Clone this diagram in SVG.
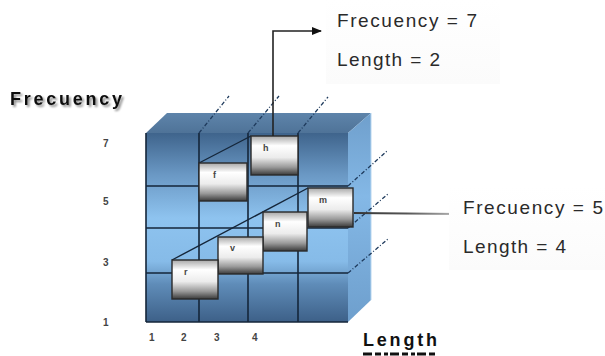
<svg xmlns="http://www.w3.org/2000/svg" width="605" height="356" viewBox="0 0 605 356">
<defs>
<linearGradient id="front" x1="0" y1="0" x2="0" y2="1">
<stop offset="0" stop-color="#3f648c"/>
<stop offset="0.22" stop-color="#6a98c4"/>
<stop offset="0.45" stop-color="#8ec3ef"/>
<stop offset="0.68" stop-color="#86bbe8"/>
<stop offset="0.8" stop-color="#5f8cb8"/>
<stop offset="1" stop-color="#3d6088"/>
</linearGradient>
<linearGradient id="side" x1="0" y1="0" x2="0" y2="1">
<stop offset="0" stop-color="#6f9fcc"/>
<stop offset="0.4" stop-color="#84b8e6"/>
<stop offset="1" stop-color="#6e9fcd"/>
</linearGradient>
<linearGradient id="top" x1="0" y1="0" x2="0" y2="1">
<stop offset="0" stop-color="#5e84aa"/>
<stop offset="1" stop-color="#4f7398"/>
</linearGradient>
<linearGradient id="box" x1="0" y1="0" x2="0" y2="1">
<stop offset="0" stop-color="#a8a8a8"/>
<stop offset="0.25" stop-color="#ffffff"/>
<stop offset="0.55" stop-color="#ececec"/>
<stop offset="0.8" stop-color="#9a9a9a"/>
<stop offset="1" stop-color="#3a3a3a"/>
</linearGradient>
<linearGradient id="arr" x1="0" y1="0" x2="1" y2="0">
<stop offset="0" stop-color="#333"/>
<stop offset="0.5" stop-color="#555"/>
<stop offset="1" stop-color="#bbb"/>
</linearGradient>
<linearGradient id="card" x1="0" y1="0" x2="0" y2="1">
<stop offset="0" stop-color="#ffffff"/>
<stop offset="1" stop-color="#fbfbfb"/>
</linearGradient>
<marker id="ah" markerWidth="10" markerHeight="8" refX="9" refY="4" orient="auto" markerUnits="userSpaceOnUse">
<path d="M0,0 L10,4 L0,8 Z" fill="#111"/>
</marker>
<filter id="sh" x="-10%" y="-20%" width="130%" height="160%">
<feGaussianBlur in="SourceAlpha" stdDeviation="1"/>
<feOffset dx="1.5" dy="1.5" result="b"/>
<feComponentTransfer><feFuncA type="linear" slope="0.45"/></feComponentTransfer>
<feMerge><feMergeNode/><feMergeNode in="SourceGraphic"/></feMerge>
</filter>
</defs>
<style>
.grid{stroke:#15263a;stroke-width:1.6;fill:none}
.dd{stroke:#1e3a5c;stroke-width:1.3;stroke-dasharray:4 2 1 2;fill:none}
.bx{fill:url(#box);stroke:#2a2a2a;stroke-width:1.4}
.bl{font-family:"Liberation Sans",Arial,sans-serif;font-size:9px;font-weight:bold;fill:#444}
.ax{font-family:"Liberation Sans",Arial,sans-serif;font-size:10px;font-weight:bold;fill:#444}
.cd{font-family:"Liberation Sans",Arial,sans-serif;font-size:19px;fill:#2a2a2a}
.tt{font-family:"Liberation Sans",Arial,sans-serif;font-size:18px;font-weight:bold;fill:#111}
.dg{stroke:#15263a;stroke-width:1.4;fill:none}
</style>

<g id="cube">
<polygon points="146,133 167,113 371,113 348,133" fill="url(#top)"/>
<polygon points="348,133 371,113 371,300 348,322" fill="url(#side)"/>
<line x1="371" y1="113" x2="371" y2="300" stroke="#b7d6f0" stroke-width="1"/>
<rect x="146" y="133" width="202" height="189" fill="url(#front)"/>
<path class="grid" d="M199,133V322M248,133V322M298,133V322M146,186H348M146,228H348M146,273H348M146,133V322M146,322H348"/>
<path class="dd" d="M199,133L229,96M248,133L279,96M298,133L328,97M348,186L387,151M348,228L388,194M348,273L388,239"/>
<path class="dg" d="M199,163L251,136M172,260L308,188"/>
</g>

<g id="node-h"><rect class="bx" x="251" y="136" width="47" height="39"/><text class="bl" x="263" y="151">h</text></g>
<g id="node-f"><rect class="bx" x="199" y="163" width="48" height="38"/><text class="bl" x="213" y="178">f</text></g>
<g id="node-m"><rect class="bx" x="308" y="188" width="45" height="39"/><text class="bl" x="319" y="203">m</text></g>
<g id="node-n"><rect class="bx" x="263" y="212" width="44" height="39"/><text class="bl" x="275" y="227">n</text></g>
<g id="node-v"><rect class="bx" x="218" y="237" width="45" height="37"/><text class="bl" x="230" y="251">v</text></g>
<g id="node-r"><rect class="bx" x="172" y="260" width="46" height="39"/><text class="bl" x="184" y="275">r</text></g>

<g id="connectors">
<path d="M273,136V31H321" fill="none" stroke="#222" stroke-width="1.6" marker-end="url(#ah)"/>
<line x1="354" y1="213" x2="459" y2="214" stroke="url(#arr)" stroke-width="2.2" marker-end="url(#ah)"/>
</g>

<g id="card-1">
<rect x="326" y="0" width="174" height="84" fill="url(#card)"/>
<text class="cd" x="337" y="27" textLength="140" lengthAdjust="spacing">Frecuency = 7</text>
<text class="cd" x="337" y="66" textLength="103" lengthAdjust="spacing">Length = 2</text>
</g>
<g id="card-2">
<rect x="449" y="187" width="156" height="83" fill="url(#card)"/>
<text class="cd" x="463" y="214" textLength="140" lengthAdjust="spacing">Frecuency = 5</text>
<text class="cd" x="463" y="253" textLength="103" lengthAdjust="spacing">Length = 4</text>
</g>

<g id="axes">
<text class="tt" x="10" y="105" textLength="112" lengthAdjust="spacing" filter="url(#sh)">Frecuency</text>
<text class="ax" x="103" y="147">7</text>
<text class="ax" x="103" y="205">5</text>
<text class="ax" x="103" y="266">3</text>
<text class="ax" x="103" y="326">1</text>
<text class="ax" x="149" y="341">1</text>
<text class="ax" x="181" y="341">2</text>
<text class="ax" x="214" y="341">3</text>
<text class="ax" x="252" y="341">4</text>
<text class="tt" x="363" y="346" textLength="74" lengthAdjust="spacing">Length</text>
<line x1="363" y1="354" x2="437" y2="354" stroke="#111" stroke-width="3" stroke-dasharray="9 3 6 3 4 2"/>
</g>
</svg>
